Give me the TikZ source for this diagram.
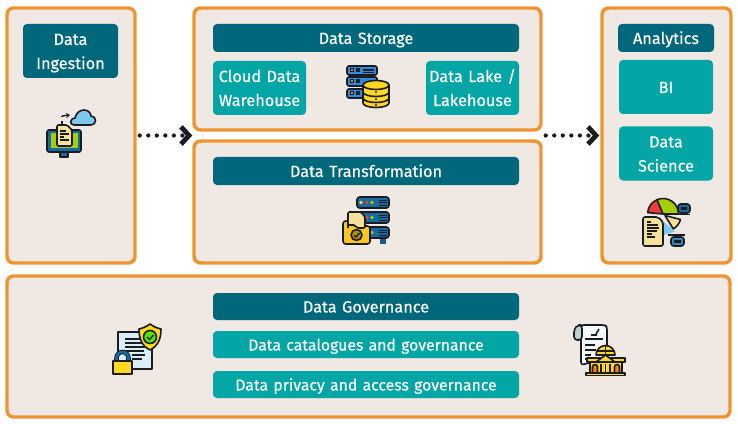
\documentclass[tikz,border=0pt]{standalone}
\usepackage{fontspec}
\setmainfont{Fira Sans}
\newfontfamily\lab{Fira Sans}[FakeBold=0.35]
\usetikzlibrary{arrows.meta,calc}
\definecolor{panelbg}{HTML}{EFE8E3}
\definecolor{panelln}{HTML}{F0942F}
\definecolor{hdr}{HTML}{01677B}
\definecolor{sub}{HTML}{04A5A5}
\definecolor{ink}{HTML}{1B1B22}
\definecolor{ydb}{HTML}{FFD81F}
\definecolor{yfold}{HTML}{F8C81E}
\definecolor{paper}{HTML}{F6E19B}
\definecolor{blu}{HTML}{2F8BE0}
\definecolor{dblu}{HTML}{17699F}
\definecolor{sky}{HTML}{7CC8EE}
\definecolor{grn}{HTML}{A2D000}
\definecolor{redd}{HTML}{F23A3A}
\definecolor{pale}{HTML}{D8EEF8}
\newcommand{\lblstrut}{\rule[-4.5pt]{0pt}{18pt}}
\tikzset{
  panel/.style={draw=panelln,fill=panelbg,line width=2.6pt,rounded corners=5pt},
  hdrbox/.style={fill=hdr,text=white,rounded corners=3pt,inner sep=0pt,align=center,font=\lab\fontsize{12.2}{18}\selectfont,execute at begin node=\lblstrut,execute at end node=\lblstrut},
  subbox/.style={hdrbox,fill=sub},
  longtxt/.style={font=\lab\fontsize{11.85}{18}\selectfont},
  flow/.style={line width=3.2pt,line cap=round,dash pattern=on 0pt off 6.4pt,ink,
     -{Straight Barb[length=6pt,width=13pt,line width=3.6pt]}},
  ic/.style={draw=ink,line width=1.2pt,line join=round},
}
\newcommand{\panelat}[5]{\node[panel,minimum width=#4*0.75pt,minimum height=#5*0.75pt,inner sep=0pt] (#1) at (#2,#3) {};}
\newcommand{\boxat}[7]{\node[#1,minimum width=#5*0.75pt,minimum height=#6*0.75pt,text width=#5*0.75pt] (#2) at (#3,#4) {#7};}
\begin{document}
\begin{tikzpicture}[x=0.75pt,y=-0.75pt]
\useasboundingbox (0,0) rectangle (738,424);
% panels
\panelat{ing}{71}{135.5}{128}{255}
\panelat{sto}{367.5}{69}{347}{122}
\panelat{tra}{367.5}{202}{347}{122}
\panelat{ana}{666.5}{135.5}{129}{255}
\panelat{gov}{368.5}{346.5}{723}{141}
% boxes
\boxat{hdrbox}{bing}{70.5}{51}{95}{54}{Data\\Ingestion}
\boxat{hdrbox}{bsto}{366}{38}{306}{28}{Data Storage}
\boxat{subbox}{bcdw}{259.5}{88}{93}{54}{Cloud Data\\Warehouse}
\boxat{subbox}{blak}{472.5}{88}{93}{54}{Data Lake /\\Lakehouse}
\boxat{hdrbox}{btra}{366}{171}{306}{28}{Data Transformation}
\boxat{hdrbox}{bana}{666}{38}{96}{28}{Analytics}
\boxat{subbox}{bbi}{666}{87}{94}{54}{BI}
\boxat{subbox}{bsci}{666}{153.5}{94}{54}{Data\\Science}
\boxat{hdrbox}{bgov}{366}{306.5}{306}{27}{Data Governance}
\boxat{subbox,longtxt}{bcat}{366}{344.5}{306}{27}{Data catalogues and governance}
\boxat{subbox,longtxt}{bpri}{366}{384.5}{306}{27}{Data privacy and access governance}
% connectors
\coordinate (mid) at ($(sto.south west)!0.5!(tra.north west)$);
\coordinate (mide) at ($(sto.south east)!0.5!(tra.north east)$);
\draw[flow] ($(ing.east)+(3,0)$) -- ($(mid)+(0,0)$);
\draw[flow] ($(mide)+(3,0)$) -- ($(ana.west)+(-1,0)$);
% icon: ingestion
\draw[ic,fill=sky] (74,125) .. controls (69,125) and (70,118) .. (75,118) .. controls (76,113) and (80,110) .. (84,110) .. controls (89,110) and (91,114) .. (91,116) .. controls (97,116) and (97,125) .. (91,125) -- cycle;
\draw[ink,line width=1pt,dashed] (62,125) -- (62,116);
\draw[ink,line width=1pt,-{Stealth[length=3pt,width=4pt]}] (62,116) -- (70,115);
\draw[ic,fill=ink] (60,152) rectangle (68,157);
\fill[dblu] (61,152) rectangle (67,156);
\draw[ic,fill=dblu,rounded corners=1.5pt] (47,130) rectangle (81,152);
\fill[grn] (50.5,133.5) rectangle (77.5,148);
\draw[ic,fill=paper,rounded corners=1pt] (57,125) -- (67,125) -- (72,130) -- (72,146) -- (57,146) -- cycle;
\foreach \a/\b/\c in {60/66/131,60/69/134,60/64/137,60/69/140}{\draw[ink,line width=0.8pt] (\a,\c) -- (\b,\c);}
% icon: storage
\foreach \y in {66,77,89}{
  \draw[ic,fill=blu,rounded corners=1.5pt] (347,\y) rectangle (377,\y+9);
  \fill[ink] (350,\y+2.5) rectangle (354,\y+6.5);
  \fill[ink] (356,\y+2.5) rectangle (360,\y+6.5);
  \fill[orange] (351,\y+3.5) rectangle (353,\y+5.5);
}
\draw[ink,line width=0.8pt] (363,70) -- (374,70) (363,72.5) -- (374,72.5);
\draw[ic,fill=ydb] (363,85) -- (363,103) arc[start angle=180,end angle=0,x radius=13,y radius=4.5] -- (389,85) -- cycle;
\draw[ic,fill=ydb] (376,85) ellipse[x radius=13,y radius=4.5];
\draw[ink,line width=1.2pt] (363,92) arc[start angle=180,end angle=0,x radius=13,y radius=4.5];
\draw[ink,line width=1.2pt] (363,98) arc[start angle=180,end angle=0,x radius=13,y radius=4.5];
\foreach \y in {90,97.5,103.5}{\fill[ink!70!ydb] (375,\y+1) rectangle (377,\y+2.6);}
% icon: transformation
\fill[dblu!80!ink] (380,238) rectangle (386,244);
\foreach \y in {197,212,227}{
  \draw[ic,fill=dblu,rounded corners=2pt] (357,\y) rectangle (389,\y+11);
  \foreach \c/\xx in {ydb/361,redd/367,grn/372}{\fill[\c] (\xx,\y+5.5) circle (1.8);}
  \foreach \d in {3,5.5,8}{\draw[ink,line width=0.7pt] (379,\y+\d) -- (387,\y+\d);}
}
\draw[ic,fill=yfold,rounded corners=2pt] (343,221) -- (350,221) -- (353,226) -- (370,226) -- (370,244) -- (343,244) -- cycle;
\draw[ic,fill=paper,rounded corners=1pt] (348,228) -- (348,212) -- (361,212) -- (365,217) -- (365,228) -- (357,228) -- (355,225) -- (348,225);
\draw[ic,fill=yfold!70!black,line width=1.2pt] (356.5,235) circle (5.5);
\draw[ink,line width=1pt] (354,235.5) -- (356,237) -- (359.5,233);
% icon: analytics
\draw[ic,fill=redd] (663,214) -- (657,199.7) arc[start angle=-113,end angle=-175,radius=15.5] -- cycle;
\draw[ic,fill=grn] (663,214) -- (657,199.7) arc[start angle=-113,end angle=0,radius=15.5] -- cycle;
\draw[ic,fill=paper] (665,215.5) -- (680.5,219.5) arc[start angle=15,end angle=60,radius=15.5] -- cycle;
\draw[ic,draw=none,fill=sky] (661,219) -- (675,231.5) -- (664,235) -- cycle;
\draw[ic,fill=paper,rounded corners=1.5pt] (643,217) -- (658,217) -- (663,222) -- (663,246) -- (643,246) -- cycle;
\foreach \a/\b/\c in {647/651/222,647/658/225,647/659/228,647/657/231,647/652/234,647/655/237}{\draw[ink,line width=0.9pt] (\a,\c) -- (\b,\c);}
\draw[ic,fill=dblu,rounded corners=2pt] (678,204) rectangle (690,213);
\fill[ink] (681,207) rectangle (687,210);
\draw[ink,line width=0.8pt] (671,214.5) -- (690,214.5);
\draw[ic,fill=dblu!70!sky,rounded corners=2pt] (671,237) rectangle (684,246);
\fill[ink] (674,240) rectangle (681,243);
\draw[ink,line width=0.8pt] (668,235) -- (685,235);
% icon: privacy
\draw[ic,fill=pale] (118,332) rectangle (152,369);
\foreach \a/\b/\c in {125/144/339,125/142/343,125/145/347,125/144/351,132/145/355,132/142/359}{\draw[ink,line width=0.8pt] (\a,\c) -- (\b,\c);}
\draw[ic,fill=ydb] (150,324) .. controls (154,327) and (157,328) .. (161,329) .. controls (161,339) and (158,346) .. (150,350) .. controls (142,346) and (139,339) .. (139,329) .. controls (143,328) and (146,327) .. (150,324) -- cycle;
\draw[ic,fill=grn!50!green] (150,337) circle (6.5);
\draw[ink,line width=1pt] (147,337) -- (149.5,339.5) -- (153.5,335);
\draw[draw=ink,line width=3.4pt] (116.5,362) -- (116.5,358) arc[start angle=180,end angle=360,radius=6] -- (128.5,362);
\draw[draw=dblu,line width=2pt] (116.5,362) -- (116.5,358) arc[start angle=180,end angle=360,radius=6] -- (128.5,362);
\draw[ic,fill=ydb] (113,361) rectangle (132,374);
% icon: regulation
\draw[ic,fill=white!70!pale,rounded corners=2pt] (581,325) -- (605,325) -- (607,327) -- (607,358) -- (581,365) -- cycle;
\draw[ic,fill=pale!70!gray,rounded corners=2.5pt] (582,325) -- (578,325) -- (574,329) -- (574,340) -- (582,340) -- cycle;
\draw[ink,line width=1.2pt] (591,335) -- (597,335) (596,334) -- (599,329);
\foreach \a/\b/\c in {585/603/339,585/595/345,585/596/350,585/591/355,585/591/359}{\draw[ink,line width=0.8pt] (\a,\c) -- (\b,\c);}
\draw[ic,fill=ydb] (596,355) arc[start angle=180,end angle=360,radius=9.5] -- cycle;
\draw[ink,line width=0.8pt] (605.5,346) -- (605.5,355) (597,351) -- (614,351);
\draw[ic,fill=ydb] (587,358) rectangle (625,362);
\draw[ic,fill=ydb] (590,362) rectangle (622,375);
\draw[ic,fill=ydb] (596,362) -- (605.5,355) -- (615,362) -- cycle;
\draw[ic,fill=orange] (592.5,375) -- (592.5,367) arc[start angle=180,end angle=360,radius=2.5] -- (597.5,375);
\draw[ic,fill=orange] (614.5,375) -- (614.5,367) arc[start angle=180,end angle=360,radius=2.5] -- (619.5,375);
\foreach \x in {601,605.5,610}{\draw[ink,line width=0.8pt] (\x,364) -- (\x,375);}
\draw[ic,fill=ydb] (586,373) rectangle (625,375.5);
\end{tikzpicture}
\end{document}
